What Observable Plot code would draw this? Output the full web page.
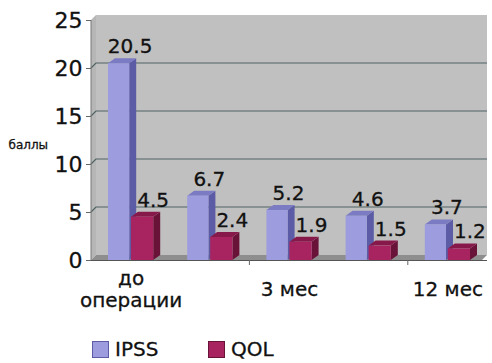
<!DOCTYPE html>
<html>
<head>
<meta charset="utf-8">
<script src="https://cdn.jsdelivr.net/npm/d3@7"></script>
<script src="https://cdn.jsdelivr.net/npm/@observablehq/plot@0.6"></script>
<style>
  body { margin: 0; background: #fff; font-family: "DejaVu Sans", sans-serif; }
  #chart { width: 492px; }
  /* slightly heavier text, as in the printed chart */
  #chart svg text { stroke: #111; stroke-width: 0.3px; }
  .legend { position: relative; width: 492px; height: 41px; }
  .legend .item { position: absolute; top: 18px; display: flex; align-items: center; font-size: 20px; color: #111; line-height: 18px; -webkit-text-stroke: 0.3px #111; }
  .legend .sw { width: 17px; height: 17px; margin-right: 6px; box-sizing: border-box; }
</style>
</head>
<body>
<div id="chart"></div>
<script>
// Time points of the follow-up
const categories = ["до операции", "1 мес", "3 мес", "6 мес", "12 мес"];
const tickLabels = ["до\nоперации", "", "3 мес", "", "12 мес"];

// Scores (баллы)
const ipss = [20.5, 6.7, 5.2, 4.6, 3.7];
const qol = [4.5, 2.4, 1.9, 1.5, 1.2];

const seriesNames = ["IPSS", "QOL"];
const yTicks = [0, 5, 10, 15, 20, 25];

// Styling of the two series: face colours and placement inside a band
const look = {
  IPSS: {front: "#9c9cde", side: "#5b5ba6", top: "#7b7bc4", inL: 17, inR: 41, ldx: -1},
  QOL:  {front: "#a82460", side: "#6a1338", top: "#87194a", inL: 40, inR: 17, ldx: 22}
};

const rows = categories.flatMap((c, i) => [
  {group: c, series: "IPSS", value: ipss[i]},
  {group: c, series: "QOL", value: qol[i]}
]);

// depth of the 3-D effect
const BD = 7, BH = 5;   // bars
const WD = 5, WH = 5;   // walls

// back wall, side wall, floor and grid lines
function walls(index, scales, values, dims) {
  const {x, y} = scales;
  const x0 = dims.marginLeft, x1 = dims.width - dims.marginRight;
  const yt = y(25), yb = y(0);
  const g = d3.create("svg:g");
  g.append("rect").attr("x", x0 + WD).attr("y", yt - WH).attr("width", x1 - x0 - WD).attr("height", yb - yt)
    .attr("fill", "#c0c0c0");
  g.append("path").attr("d", `M${x0},${yt}L${x0 + WD},${yt - WH}L${x0 + WD},${yb - WH}L${x0},${yb}Z`).attr("fill", "#b6b6b6");
  g.append("path").attr("d", `M${x0},${yb}L${x0 + WD},${yb - WH}L${x1},${yb - WH}L${x1 - WD},${yb}Z`).attr("fill", "#8e8e8e");
  for (const t of yTicks.filter(t => t > 0 && t < 25)) {
    g.append("path").attr("d", `M${x0},${y(t)}L${x0 + WD},${y(t) - WH}L${x1},${y(t) - WH}`)
      .attr("fill", "none").attr("stroke", "#4e6262").attr("stroke-width", 1.2);
  }
  // axis lines
  g.append("line").attr("x1", x0).attr("x2", x0).attr("y1", yt).attr("y2", yb).attr("stroke", "#777");
  g.append("line").attr("x1", x0).attr("x2", x1).attr("y1", yb + 0.5).attr("y2", yb + 0.5).attr("stroke", "#555");
  // x ticks at the start of every labelled band
  categories.forEach((c, i) => {
    if (i > 0 && tickLabels[i]) {
      g.append("line").attr("x1", x(c)).attr("x2", x(c)).attr("y1", yb).attr("y2", yb + 5).attr("stroke", "#666");
    }
  });
  return g.node();
}

// side and top faces of a series' columns
function faces(name) {
  const s = look[name];
  return (index, scales) => {
    const {x, y} = scales;
    const bw = x.bandwidth();
    const g = d3.create("svg:g");
    for (const r of rows.filter(r => r.series === name)) {
      const x1 = x(r.group) + s.inL, x2 = x(r.group) + bw - s.inR;
      const yt = y(r.value), yb = y(0);
      g.append("path").attr("d", `M${x2},${yt}L${x2 + BD},${yt - BH}L${x2 + BD},${yb - BH}L${x2},${yb}Z`).attr("fill", s.side);
      g.append("path").attr("d", `M${x1},${yt}L${x1 + BD},${yt - BH}L${x2 + BD},${yt - BH}L${x2},${yt}Z`).attr("fill", s.top);
    }
    return g.node();
  };
}

function seriesMarks(name) {
  const s = look[name];
  const data = rows.filter(r => r.series === name);
  return [
    faces(name),
    Plot.barY(data, {x: "group", y: "value", fill: s.front, insetLeft: s.inL, insetRight: s.inR}),
    Plot.text(data, {x: "group", y: "value", text: d => d.value.toFixed(1), dx: s.ldx, dy: -17,
      fontSize: 20, lineAnchor: "middle", fill: "#111"})
  ];
}

const plot = Plot.plot({
  width: 492,
  height: 322,
  marginLeft: 91,
  marginRight: 5,
  marginTop: 20,
  marginBottom: 62,
  style: {fontFamily: "DejaVu Sans, sans-serif", background: "#fff"},
  x: {type: "band", domain: categories, padding: 0, round: false, axis: null},
  y: {domain: [0, 25], axis: null},
  marks: [
    walls,
    ...seriesMarks("IPSS"),
    ...seriesMarks("QOL"),
    Plot.axisY({ticks: yTicks, label: null, tickSize: 5, tickPadding: 4, fontSize: 22, stroke: "#666", fill: "#111"}),
    Plot.text(categories, {x: d => d, text: (d, i) => tickLabels[i], frameAnchor: "bottom", dy: 28,
      lineAnchor: "middle", lineHeight: 1.1, fontSize: 20, fill: "#111"}),
    Plot.text(["баллы"], {frameAnchor: "left", dx: -83, dy: 5, textAnchor: "start", fontSize: 12, fill: "#111"})
  ]
});

document.getElementById("chart").append(plot);

// legend under the chart
const legend = d3.select("#chart").append("div").attr("class", "legend");
const legendX = [92, 208];
seriesNames.forEach((n, i) => {
  const item = legend.append("div").attr("class", "item").style("left", legendX[i] + "px");
  item.append("div").attr("class", "sw").style("background", look[n].front)
    .style("border", "1px solid " + look[n].side);
  item.append("span").text(n);
});
</script>
</body>
</html>
